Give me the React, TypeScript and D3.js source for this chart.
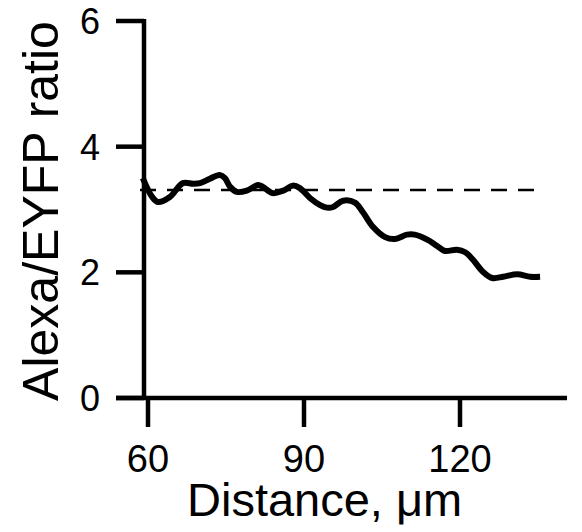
import React, { useEffect, useRef } from 'react';
import * as d3 from 'd3';

// distance along the dendrite (um) and the Alexa/EYFP ratio
const distance = [
  59.0, 60.8, 61.9, 64.2, 66.7, 68.7, 70.0, 71.9, 73.8, 74.8, 75.8, 77.1, 79.0, 81.2,
  82.1, 84.0, 86.0, 87.9, 89.2, 91.2, 93.1, 94.4, 95.6, 97.5, 99.8, 101.3, 103.3, 105.6,
  107.5, 109.8, 111.3, 113.7, 115.6, 117.1, 119.4, 121.0, 122.5, 124.4, 126.2, 128.3,
  131.0, 133.5, 135.4,
];
const ratio = [
  3.5, 3.2, 3.12, 3.2, 3.42, 3.41, 3.42, 3.49, 3.55, 3.5, 3.36, 3.28, 3.3, 3.39,
  3.36, 3.26, 3.3, 3.38, 3.34, 3.18, 3.07, 3.03, 3.04, 3.14, 3.11, 2.96, 2.72, 2.56,
  2.53, 2.6, 2.6, 2.52, 2.42, 2.34, 2.36, 2.32, 2.2, 2.01, 1.91, 1.93,
  1.97, 1.93, 1.93,
];
const meanRatio = 3.31;

const xTicks = [60, 90, 120];
const yTicks = [0, 2, 4, 6];

const width = 582;
const height = 532;
const font = '"Liberation Sans", Arial, sans-serif';

const App: React.FC = () => {
  const ref = useRef<SVGSVGElement>(null);

  useEffect(() => {
    const svg = d3.select(ref.current);
    svg.selectAll('*').remove();

    const x = d3.scaleLinear().domain([60, 120]).range([148, 460]);
    const y = d3.scaleLinear().domain([0, 6]).range([398, 21]);
    const axisX = 144; // where the y axis sits

    // x axis line + ticks
    svg.append('line')
      .attr('x1', 116).attr('x2', 567)
      .attr('y1', y(0)).attr('y2', y(0))
      .attr('stroke', '#000').attr('stroke-width', 4.5);

    xTicks.forEach(t => {
      svg.append('line')
        .attr('x1', x(t)).attr('x2', x(t))
        .attr('y1', y(0)).attr('y2', y(0) + 29)
        .attr('stroke', '#000').attr('stroke-width', 4.5);
      svg.append('text')
        .attr('x', x(t))
        .attr('y', 472)
        .attr('text-anchor', 'middle')
        .attr('font-family', font)
        .attr('font-size', 38)
        .text(t);
    });

    // y axis line + ticks
    svg.append('line')
      .attr('x1', axisX).attr('x2', axisX)
      .attr('y1', y(6) - 2).attr('y2', y(0) + 2)
      .attr('stroke', '#000').attr('stroke-width', 4.5);

    yTicks.forEach(t => {
      svg.append('line')
        .attr('x1', 116).attr('x2', axisX)
        .attr('y1', y(t)).attr('y2', y(t))
        .attr('stroke', '#000').attr('stroke-width', 4.5);
      svg.append('text')
        .attr('x', 100)
        .attr('y', y(t))
        .attr('dy', '0.36em')
        .attr('text-anchor', 'end')
        .attr('font-family', font)
        .attr('font-size', 36)
        .text(t);
    });

    // dashed reference level
    svg.append('line')
      .attr('x1', 140).attr('x2', 545)
      .attr('y1', y(meanRatio)).attr('y2', y(meanRatio))
      .attr('stroke', '#000').attr('stroke-width', 2.5)
      .attr('stroke-dasharray', '16 11');

    // ratio trace
    const pts = distance.map((d, i) => [d, ratio[i]] as [number, number]);
    const line = d3.line<[number, number]>()
      .x(d => x(d[0]))
      .y(d => y(d[1]))
      .curve(d3.curveCatmullRom);

    svg.append('path')
      .datum(pts)
      .attr('fill', 'none')
      .attr('stroke', '#000')
      .attr('stroke-width', 6)
      .attr('stroke-linejoin', 'round')
      .attr('d', line);

    // axis titles
    svg.append('text')
      .attr('x', 187)
      .attr('y', 516)
      .attr('font-family', font)
      .attr('font-size', 47)
      .text('Distance, \u03bcm');

    svg.append('text')
      .attr('transform', 'translate(58,211) rotate(-90)')
      .attr('text-anchor', 'middle')
      .attr('font-family', font)
      .attr('font-size', 50)
      .text('Alexa/EYFP ratio');
  }, []);

  return (
    <svg
      ref={ref}
      width={width}
      height={height}
      style={{ position: 'absolute', left: 0, top: 0, background: '#fff' }}
    />
  );
};

export default App;
